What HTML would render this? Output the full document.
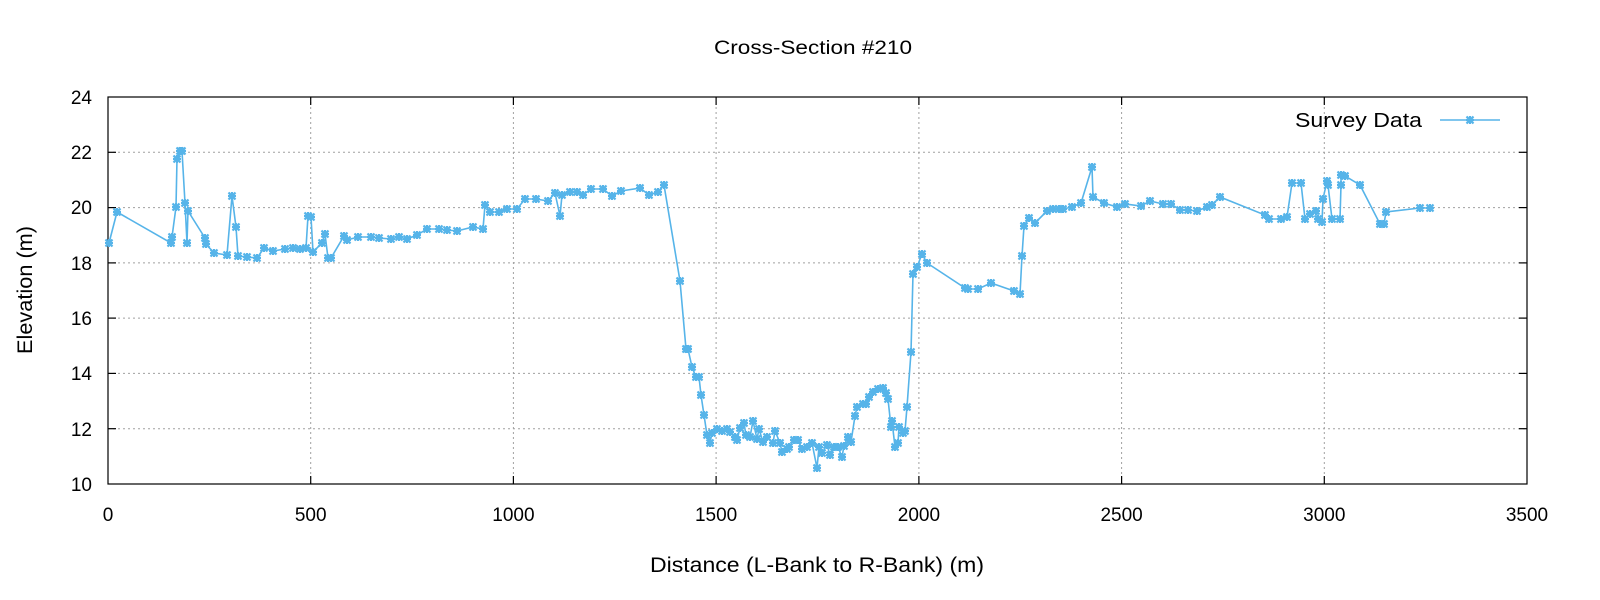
<!DOCTYPE html>
<html><head><meta charset="utf-8"><style>
body{margin:0;background:#fff;}
svg{display:block;font-family:"Liberation Sans",sans-serif;}
</style></head><body>
<svg width="1600" height="600" viewBox="0 0 1600 600" xmlns="http://www.w3.org/2000/svg">
<defs>
<g id="m"><path d="M-3.5,-3.5L3.5,3.5M-3.5,3.5L3.5,-3.5M-4,0L4,0M0,-4L0,4" stroke="#56b4e9" stroke-width="2.2" fill="none"/></g>
</defs>
<rect width="1600" height="600" fill="#fff"/>
<g stroke="#a0a0a0" stroke-width="1" stroke-dasharray="2,3">
<line x1="108" y1="152.3" x2="1527" y2="152.3"/><line x1="108" y1="207.6" x2="1527" y2="207.6"/>
<line x1="108" y1="262.9" x2="1527" y2="262.9"/><line x1="108" y1="318.1" x2="1527" y2="318.1"/>
<line x1="108" y1="373.4" x2="1527" y2="373.4"/><line x1="108" y1="428.7" x2="1527" y2="428.7"/>
<line x1="310.7" y1="97" x2="310.7" y2="484"/><line x1="513.4" y1="97" x2="513.4" y2="484"/>
<line x1="716.1" y1="97" x2="716.1" y2="484"/><line x1="918.9" y1="97" x2="918.9" y2="484"/>
<line x1="1121.6" y1="97" x2="1121.6" y2="484"/><line x1="1324.3" y1="97" x2="1324.3" y2="484"/>
</g>
<rect x="108" y="97" width="1419" height="387" fill="none" stroke="#000" stroke-width="1.2"/>
<g stroke="#000" stroke-width="1.2">
<line x1="108" y1="152.3" x2="116" y2="152.3"/><line x1="108" y1="207.6" x2="116" y2="207.6"/><line x1="108" y1="262.9" x2="116" y2="262.9"/><line x1="108" y1="318.1" x2="116" y2="318.1"/><line x1="108" y1="373.4" x2="116" y2="373.4"/><line x1="108" y1="428.7" x2="116" y2="428.7"/>
<line x1="1519" y1="152.3" x2="1527" y2="152.3"/><line x1="1519" y1="207.6" x2="1527" y2="207.6"/><line x1="1519" y1="262.9" x2="1527" y2="262.9"/><line x1="1519" y1="318.1" x2="1527" y2="318.1"/><line x1="1519" y1="373.4" x2="1527" y2="373.4"/><line x1="1519" y1="428.7" x2="1527" y2="428.7"/>
<line x1="310.7" y1="484" x2="310.7" y2="476"/><line x1="513.4" y1="484" x2="513.4" y2="476"/><line x1="716.1" y1="484" x2="716.1" y2="476"/><line x1="918.9" y1="484" x2="918.9" y2="476"/><line x1="1121.6" y1="484" x2="1121.6" y2="476"/><line x1="1324.3" y1="484" x2="1324.3" y2="476"/>
<line x1="310.7" y1="97" x2="310.7" y2="105"/><line x1="513.4" y1="97" x2="513.4" y2="105"/><line x1="716.1" y1="97" x2="716.1" y2="105"/><line x1="918.9" y1="97" x2="918.9" y2="105"/><line x1="1121.6" y1="97" x2="1121.6" y2="105"/><line x1="1324.3" y1="97" x2="1324.3" y2="105"/>
</g>
<g font-size="19" fill="#000" text-anchor="end">
<text x="92" y="104">24</text><text x="92" y="159">22</text><text x="92" y="214">20</text><text x="92" y="270">18</text><text x="92" y="325">16</text><text x="92" y="380">14</text><text x="92" y="436">12</text><text x="92" y="491">10</text>
</g>
<g font-size="19" fill="#000" text-anchor="middle">
<text x="108" y="521">0</text><text x="310.7" y="521">500</text><text x="513.4" y="521">1000</text><text x="716.1" y="521">1500</text><text x="918.9" y="521">2000</text><text x="1121.6" y="521">2500</text><text x="1324.3" y="521">3000</text><text x="1527" y="521">3500</text>
<text x="813" y="54" font-size="19" textLength="198" lengthAdjust="spacingAndGlyphs">Cross-Section #210</text>
<text x="817" y="572" font-size="21" textLength="334" lengthAdjust="spacingAndGlyphs">Distance (L-Bank to R-Bank) (m)</text>
<text transform="translate(32,290) rotate(-90)" font-size="21" textLength="128" lengthAdjust="spacingAndGlyphs">Elevation (m)</text>
</g>
<text x="1422" y="127" font-size="20" text-anchor="end" textLength="127" lengthAdjust="spacingAndGlyphs">Survey Data</text>
<line x1="1440" y1="120" x2="1500" y2="120" stroke="#56b4e9" stroke-width="1.6"/>
<use href="#m" x="1470" y="120"/>
<polyline id="p" fill="none" stroke="#56b4e9" stroke-width="1.6" points="109,243 117,212 171,243 172,237 176,207 177,159 180,151 182,151 185,203 187,243 188,211 205,238 206,244 214,253 227,255 232,196 236,227 238,256 247,257 257,258 264,248 273,251 285,249 293,248 300,249 306,248 308,216 311,217 313,252 322,243 325,234 328,258 331,258 344,236 347,240 358,237 371,237 379,238 391,239 399,237 407,239 417,235 427,229 439,229 447,230 457,231 473,227 483,229 485,205 490,212 499,212 507,209 517,209 525,199 536,199 548,201 555,193 560,216 562,195 570,192 577,192 583,195 591,189 603,189 612,196 621,191 640,188 649,195 658,192 664,185 680,281 686,349 688,349 692,367 696,377 699,377 701,395 704,415 707,435 710,443 712,433 717,429 722,431 727,429 730,432 735,437 737,440 740,428 744,423 746,435 750,437 753,421 757,439 759,429 763,442 767,437 773,443 775,431 780,443 782,452 787,449 789,447 794,440 798,440 802,449 807,447 812,443 817,468 819,447 822,453 827,445 830,455 834,447 838,447 842,457 844,446 848,437 851,442 855,416 857,407 863,404 866,404 869,397 873,392 878,389 883,388 886,393 888,399 891,427 892,421 895,447 898,443 899,427 903,433 905,431 907,407 911,352 913,274 917,267 922,254 927,263 965,288 968,289 978,289 991,283 1014,291 1020,294 1022,256 1024,226 1029,218 1035,223 1047,211 1053,209 1059,209 1063,209 1072,207 1081,203 1092,167 1093,197 1104,203 1117,207 1125,204 1141,206 1150,201 1163,204 1171,204 1180,210 1188,210 1197,211 1207,207 1212,205 1220,197 1265,215 1269,219 1281,219 1287,217 1292,183 1301,183 1305,219 1310,214 1316,211 1318,219 1322,222 1323,199 1327,181 1328,185 1332,219 1340,219 1341,185 1341,175 1345,176 1360,185 1380,224 1384,224 1386,212 1420,208 1430,208"/>
<g id="marks"></g>
<script>
var pts=document.getElementById('p').getAttribute('points').trim().split(/\s+/);
var g=document.getElementById('marks');var ns="http://www.w3.org/2000/svg";
pts.forEach(function(s){var a=s.split(',');var u=document.createElementNS(ns,'use');u.setAttribute('href','#m');u.setAttribute('x',a[0]);u.setAttribute('y',a[1]);g.appendChild(u);});
</script>
</svg>
</body></html>
